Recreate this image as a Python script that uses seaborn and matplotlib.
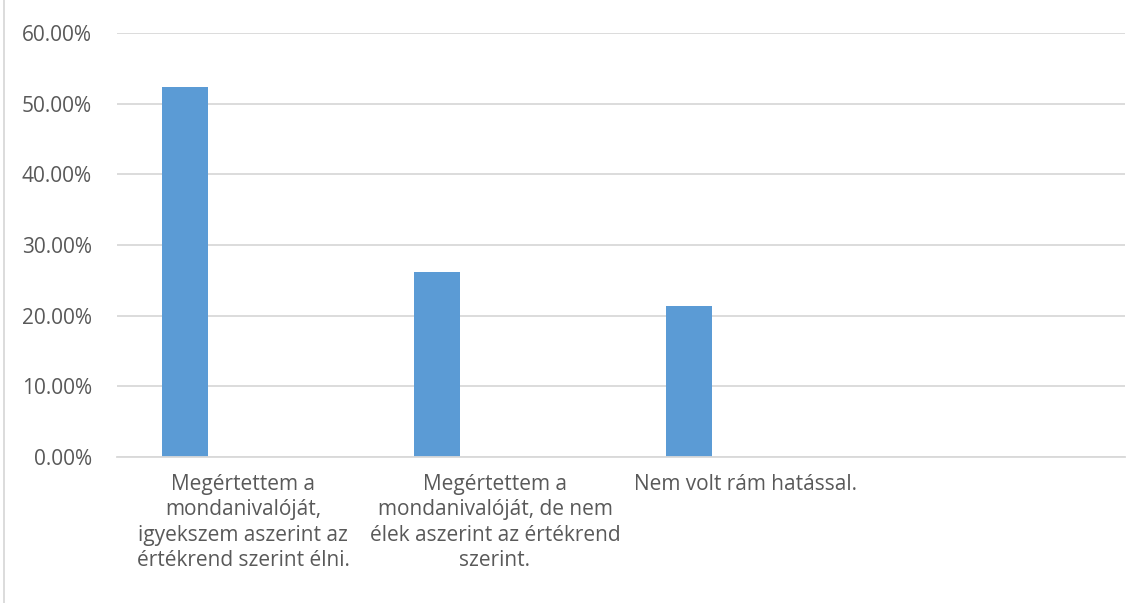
import matplotlib
matplotlib.use("Agg")
import matplotlib.pyplot as plt
import matplotlib.transforms as mtransforms
import seaborn as sns
import pandas as pd

# Data
categories = [
    "Megértettem a\nmondanivalóját,\nigyekszem aszerint az\nértékrend szerint élni.",
    "Megértettem a\nmondanivalóját, de nem\nélek aszerint az értékrend\nszerint.",
    "Nem volt rám hatással.",
    "",
]
shares = [0.5238, 0.2619, 0.2143, 0.0]
# the original chart carries a second, empty series that pushes the bars left
empty_series = [0.0, 0.0, 0.0, 0.0]
yticks = [0.0, 0.1, 0.2, 0.3, 0.4, 0.5, 0.6]

sns.set_style("white")
plt.rcParams["font.family"] = ["Open Sans", "DejaVu Sans"]

df = pd.concat([
    pd.DataFrame({"category": categories, "share": shares, "series": "a"}),
    pd.DataFrame({"category": categories, "share": empty_series, "series": "b"}),
], ignore_index=True)

fig = plt.figure(figsize=(11.43, 6.03), dpi=100)
ax = fig.add_axes([117 / 1143, 1 - 457 / 603, (1125 - 117) / 1143, (457 - 33) / 603])

sns.barplot(data=df, x="category", y="share", hue="series", hue_order=["a", "b"],
            order=categories, palette=["#5b9bd5", "#5b9bd5"], width=0.92, gap=0.61,
            saturation=1, linewidth=0, legend=False, ax=ax, zorder=3)

ax.set_ylim(0, 0.6)
ax.set_yticks(yticks)
ax.set_yticklabels([f"{v * 100:.2f}%" for v in yticks])
ax.set_xlim(-0.5, len(categories) - 0.5)
ax.yaxis.grid(True, color="#d9d9d9", linewidth=1.3, zorder=0)
ax.set_axisbelow(True)
for side in ["top", "right", "left"]:
    ax.spines[side].set_visible(False)
ax.spines["bottom"].set_color("#d9d9d9")
ax.spines["bottom"].set_linewidth(1.3)
ax.spines["bottom"].set_zorder(4)
ax.set_xlabel("")
ax.set_ylabel("")
ax.tick_params(axis="y", length=0, pad=18, labelsize=15, labelcolor="#595959")
ax.tick_params(axis="x", length=0, pad=12, labelsize=15, labelcolor="#595959")

labels = ax.get_xticklabels()
for lab in labels:
    lab.set_linespacing(1.28)
# the single-line label sits further right in the original
third = labels[2]
third.set_horizontalalignment("left")
third.set_transform(third.get_transform() + mtransforms.ScaledTranslation(-1.13, 0, fig.dpi_scale_trans))

# chart frame edge on the left
fig.add_artist(plt.Line2D([4 / 1143, 4 / 1143], [0, 1], color="#d9d9d9", linewidth=1.3))

fig.savefig("out.png", dpi=100)
